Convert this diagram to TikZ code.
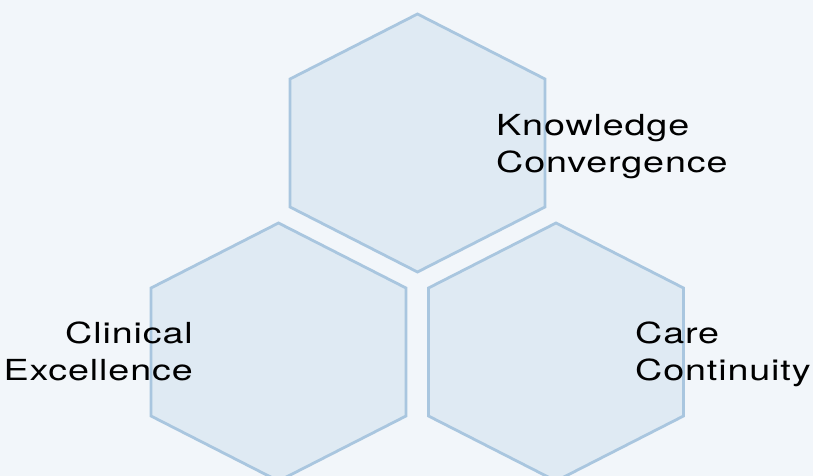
\documentclass[tikz,border=0pt]{standalone}
\usepackage{fontspec}
\setmainfont{TeX Gyre Heros}[FakeStretch=1.3,LetterSpace=3]
\definecolor{pagebg}{HTML}{F2F6FA}
\definecolor{hexfill}{HTML}{DFEAF3}
\definecolor{hexline}{HTML}{A9C6DF}

\begin{document}
\begin{tikzpicture}[x=1pt,y=-1pt,
  hexcell/.style={draw=hexline,fill=hexfill,line width=2.8pt,line join=miter},
  hexlabel/.style={inner sep=0pt,font=\fontsize{29}{37}\selectfont,text=black}]
\useasboundingbox[fill=pagebg] (0,0) rectangle (813,476);
% cells: top, bottom left, bottom right
\foreach \cx/\cy in {417.5/143, 278.5/352, 556/352}
  \draw[hexcell] (\cx,\cy-129) -- (\cx+127.5,\cy-64) -- (\cx+127.5,\cy+64)
    -- (\cx,\cy+129) -- (\cx-127.5,\cy+64) -- (\cx-127.5,\cy-64) -- cycle;
\node[hexlabel,anchor=west,align=left] (know) at (496,147) {Knowledge\\Convergence};
\node[hexlabel,anchor=east,align=right] (clin) at (193,351) {Clinical\\Excellence};
\node[hexlabel,anchor=west,align=left] (care) at (635,354) {Care\\Continuity};
\end{tikzpicture}
\end{document}
